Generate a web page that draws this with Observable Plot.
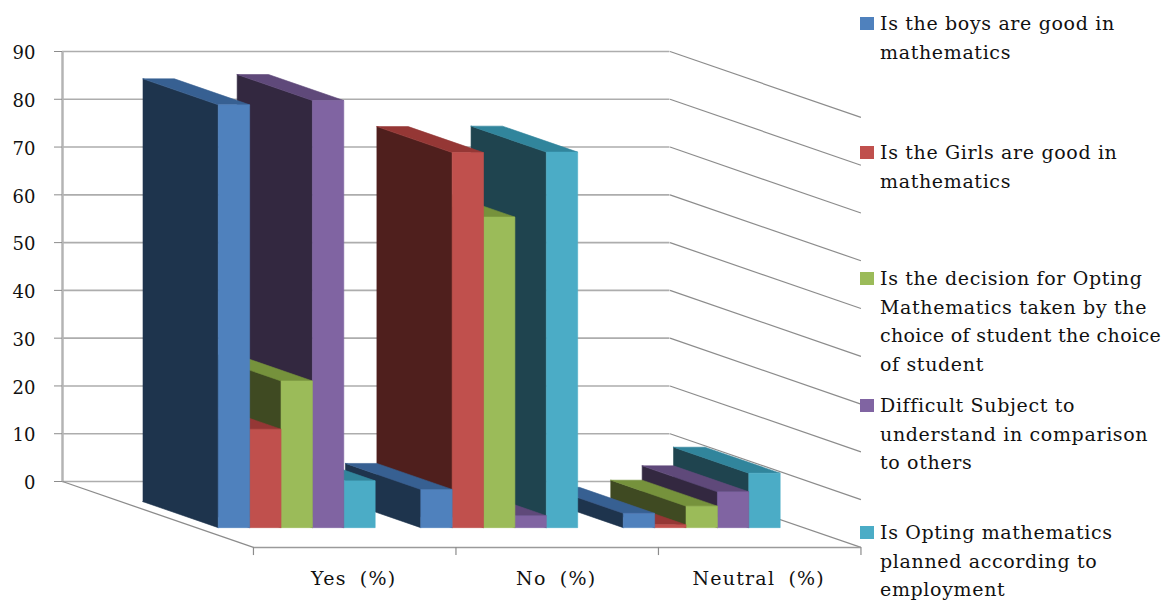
<!DOCTYPE html>
<html>
<head>
<meta charset="utf-8">
<script src="https://cdn.jsdelivr.net/npm/d3@7"></script>
<script src="https://cdn.jsdelivr.net/npm/@observablehq/plot@0.6"></script>
<style>
  html, body { margin: 0; padding: 0; background: #fff; overflow: hidden; width: 1162px; height: 601px; }
  #chart { position: relative; width: 1162px; height: 601px; overflow: hidden; }
  #legend { position: absolute; left: 860px; top: 0; font: 19px/28.6px "DejaVu Serif", serif; letter-spacing: 0.65px; color: #111; white-space: pre; }
  #legend .item { position: absolute; left: 0; }
  #legend .swatch { position: absolute; left: 0; top: 8px; width: 14px; height: 13px; }
  #legend .text { position: absolute; left: 20px; top: 0; }
  #legend .line { display: block; width: fit-content; }
</style>
</head>
<body>
<div id="chart"></div>
<script>
// Survey answers per question, in percent
const categories = ["Yes (%)", "No (%)", "Neutral (%)"];
const boysGood = [88.5, 8, 3];
const girlsGood = [20.6, 78.5, 0.6];
const decisionByChoice = [30.7, 65, 4.5];
const difficultSubject = [89.4, 2.5, 7.5];
const plannedForEmployment = [9.8, 78.6, 11.4];
const yTicks = [0, 10, 20, 30, 40, 50, 60, 70, 80, 90];

const questions = ["boys", "girls", "decision", "difficult", "planned"];
const valuesByQuestion = [boysGood, girlsGood, decisionByChoice, difficultSubject, plannedForEmployment];
const frontColors = ["#4f81bd", "#c0504d", "#9bbb59", "#8064a2", "#4bacc6"];
const topColors = ["#376092", "#953735", "#76923c", "#5f497a", "#31859c"];
const sideColors = ["#1e344d", "#4f1f1d", "#3f4a22", "#332840", "#1f444f"];

const legendLines = [
  ["Is the boys are good in", "mathematics"],
  ["Is the Girls are good in", "mathematics"],
  ["Is the decision for Opting", "Mathematics taken by the", "choice of student the choice", "of student"],
  ["Difficult Subject to", "understand in comparison", "to others"],
  ["Is Opting mathematics", "planned according to", "employment"]
];
const legendTops = [9, 138, 264, 391, 518];

// Oblique projection: depth 0 is the back wall, depth 1 the front edge of the floor
const depthX = 0.943;   // category widths per unit of depth
const depthY = -13.8;   // value units per unit of depth
const project = (cat, depth, value) => ({x: cat + depth * depthX, y: value + depth * depthY});

const barFront = 0.70, barBack = 0.306;
const barWidth = 0.155, barInset = 0.109;

// One closed polygon per visible face; later categories and questions sit behind earlier ones
const faces = [];
function addFace(id, fill, corners) {
  for (const c of [...corners, corners[0]]) faces.push({id, fill, ...project(c[0], c[1], c[2])});
}
for (let c = categories.length - 1; c >= 0; --c) {
  for (let s = questions.length - 1; s >= 0; --s) {
    const v = valuesByQuestion[s][c];
    const x0 = c + barInset + s * barWidth, x1 = x0 + barWidth;
    const key = `${c}-${s}`;
    addFace(`${key}-side`, sideColors[s], [[x0, barBack, 0], [x0, barFront, 0], [x0, barFront, v], [x0, barBack, v]]);
    addFace(`${key}-top`, topColors[s], [[x0, barBack, v], [x1, barBack, v], [x1, barFront, v], [x0, barFront, v]]);
    addFace(`${key}-front`, frontColors[s], [[x0, barFront, 0], [x1, barFront, 0], [x1, barFront, v], [x0, barFront, v]]);
  }
}

const catEdges = d3.range(categories.length + 1);
const frontAt = (c, value = 0) => project(c, 1, value);

const plot = Plot.plot({
  width: 1162,
  height: 601,
  marginLeft: 62,
  marginRight: 492.5,
  marginTop: 51,
  marginBottom: 120,
  x: {domain: [0, 3], axis: null},
  y: {domain: [0, 90], axis: null},
  color: {type: "identity"},
  style: {background: "#fff", fontFamily: "'DejaVu Serif', serif", color: "#111", overflow: "hidden"},
  marks: [
    // back wall and right wall gridlines
    Plot.ruleY(yTicks, {x1: 0, x2: 3, stroke: "#adadad", strokeWidth: 1.6}),
    Plot.link(yTicks, {
      x1: 3, y1: d => d,
      x2: () => project(3, 1, 0).x, y2: d => project(3, 1, d).y,
      stroke: "#8c8c8c", strokeWidth: 1.2
    }),
    // value axis: tick marks, then labels set slightly low
    Plot.ruleX([0], {y1: 0, y2: 90, stroke: "#b4b4b4", strokeWidth: 2.5}),
    Plot.axisY(yTicks, {tickSize: 8, tickFormat: () => "", stroke: "#8c8c8c", label: null}),
    Plot.axisY(yTicks, {
      tickSize: 0, tickPadding: 27, dy: 2, tickFormat: d => d,
      fontSize: 18, label: null, fill: "#111"
    }),
    // floor edges and category ticks
    Plot.link([0], {
      x1: 0, y1: 0, x2: () => frontAt(0).x, y2: () => frontAt(0).y,
      stroke: "#8c8c8c", strokeWidth: 1.3
    }),
    Plot.link([0], {
      x1: () => frontAt(0).x, y1: () => frontAt(0).y,
      x2: () => frontAt(3).x, y2: () => frontAt(3).y,
      stroke: "#9a9a9a", strokeWidth: 1.5
    }),
    Plot.ruleX(catEdges, {
      x: c => frontAt(c).x, y1: c => frontAt(c).y, y2: c => frontAt(c, -1.7).y,
      stroke: "#8c8c8c", strokeWidth: 1.2
    }),
    // bars
    Plot.line(faces, {
      x: "x", y: "y", z: "id", fill: "fill", stroke: "fill",
      strokeWidth: 0.6, curve: "linear-closed"
    }),
    // category labels
    Plot.text(categories, {
      x: (d, i) => frontAt(i + 0.5).x, y: () => frontAt(0).y, dx: -1, dy: 31,
      text: d => d, fontSize: 19, fill: "#111"
    })
  ]
});
d3.select(plot).selectAll('g[aria-label="text"] text')
  .style("word-spacing", "6px")
  .style("letter-spacing", "1.2px");
document.getElementById("chart").append(plot);

// Legend: a colour swatch beside each wrapped question
const legend = d3.select("#chart").append("div").attr("id", "legend");
const items = legend.selectAll(".item").data(legendLines).join("div").attr("class", "item")
  .style("top", (d, i) => legendTops[i] + "px");
items.append("div").attr("class", "swatch").style("background", (d, i) => frontColors[i]);
items.append("div").attr("class", "text").selectAll(".line").data(d => d).join("span")
  .attr("class", "line").text(d => d);

// Tighten any legend line that would run past the page edge
const pageRight = 1161;
legend.selectAll(".line").each(function(d) {
  const overrun = this.getBoundingClientRect().right - pageRight;
  if (overrun > 0) this.style.letterSpacing = `${0.65 - overrun / d.length}px`;
});
</script>
</body>
</html>
